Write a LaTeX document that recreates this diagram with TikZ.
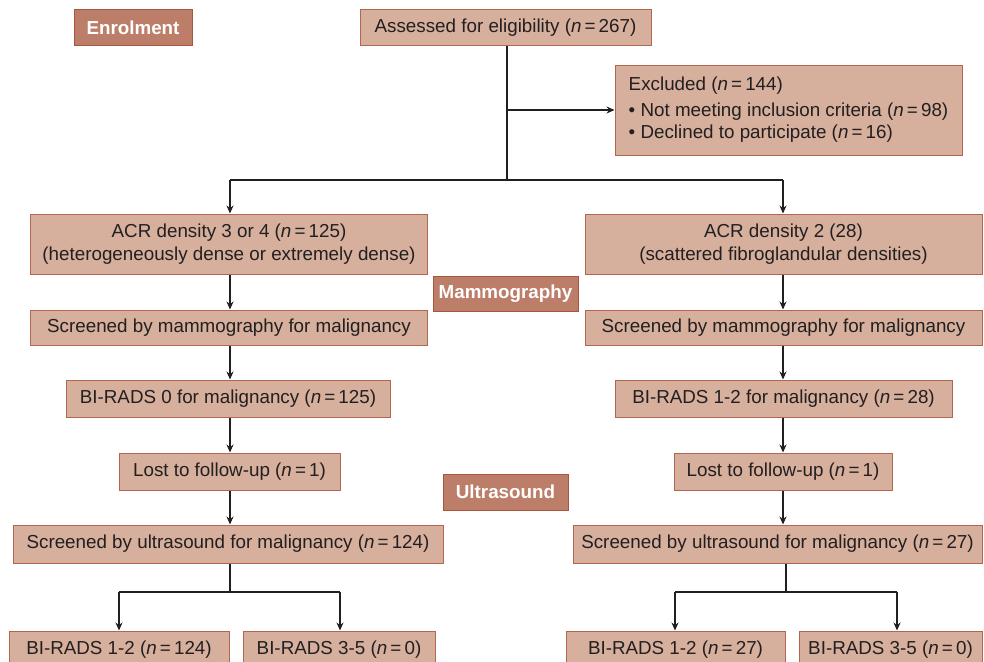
\documentclass[tikz,border=0pt]{standalone}
\usepackage{fontspec}
\setmainfont{Liberation Sans}
\usetikzlibrary{arrows.meta}
\definecolor{boxfill}{HTML}{D6AF9D}
\definecolor{boxline}{HTML}{B4654F}
\definecolor{tagfill}{HTML}{BC7E69}
\definecolor{tagline}{HTML}{A8553F}
\definecolor{ink}{HTML}{231F20}
\newcommand{\nn}{\textit{n}\,=\,}
\begin{document}
\begin{tikzpicture}[x=1pt,y=-1pt,
 box/.style={draw=boxline, fill=boxfill, line width=1pt, inner sep=0pt,
   font=\fontsize{18.8}{23}\selectfont, text=ink, align=center},
 tag/.style={draw=tagline, fill=tagfill, line width=1pt, inner sep=0pt,
   font=\bfseries\fontsize{18.8}{22}\selectfont, text=white},
 conn/.style={line width=1.4pt, draw=ink},
 arr/.style={conn, -{Stealth[length=8pt,width=7pt]}}]
\useasboundingbox (0,0) rectangle (984,661);
\clip (0,0) rectangle (984,661);
\fill[white] (0,0) rectangle (984,661);
% tags
\node[tag, minimum width=118pt, minimum height=36pt] (enrol) at (133,28) {Enrolment};
\node[tag, minimum width=145pt, minimum height=35pt] (mammo) at (505.5,293.5) {Mammography};
\node[tag, minimum width=125pt, minimum height=36pt] (us) at (505.5,492) {Ultrasound};
% boxes
\node[box, minimum width=291pt, minimum height=36pt] (assess) at (505.5,28) {Assessed for eligibility (\nn267)};
\node[box, minimum width=347pt, minimum height=90pt, align=left] (excl) at (788.5,110)
 {Excluded (\nn144)\\[3pt]\textbullet\ Not meeting inclusion criteria (\nn98)\\[-1pt]\textbullet\ Declined to participate (\nn16)};
\node[box, minimum width=397pt, minimum height=60pt] (acrL) at (229,244) {ACR density 3 or 4 (\nn125)\\(heterogeneously dense or extremely dense)};
\node[box, minimum width=397pt, minimum height=60pt] (acrR) at (783.5,244) {ACR density 2 (28)\\(scattered fibroglandular densities)};
\node[box, minimum width=397pt, minimum height=35pt] (smL) at (229,327.5) {Screened by mammography for malignancy};
\node[box, minimum width=397pt, minimum height=35pt] (smR) at (783.5,327.5) {Screened by mammography for malignancy};
\node[box, minimum width=324pt, minimum height=37pt] (biL) at (228,398.5) {BI-RADS 0 for malignancy (\nn125)};
\node[box, minimum width=337pt, minimum height=37pt] (biR) at (783.5,398.5) {BI-RADS 1-2 for malignancy (\nn28)};
\node[box, minimum width=221pt, minimum height=37pt] (lostL) at (229.5,471.5) {Lost to follow-up (\nn1)};
\node[box, minimum width=218pt, minimum height=37pt] (lostR) at (783,471.5) {Lost to follow-up (\nn1)};
\node[box, minimum width=430pt, minimum height=38pt] (suL) at (228,544) {Screened by ultrasound for malignancy (\nn124)};
\node[box, minimum width=409pt, minimum height=38pt] (suR) at (777.5,544) {Screened by ultrasound for malignancy (\nn27)};
\node[box, minimum width=220pt, minimum height=37pt] (b1) at (119,649.5) {BI-RADS 1-2 (\nn124)};
\node[box, minimum width=192pt, minimum height=37pt] (b2) at (339,649.5) {BI-RADS 3-5 (\nn0)};
\node[box, minimum width=219pt, minimum height=37pt] (b3) at (675.5,649.5) {BI-RADS 1-2 (\nn27)};
\node[box, minimum width=183pt, minimum height=37pt] (b4) at (890.5,649.5) {BI-RADS 3-5 (\nn0)};
% connectors
\coordinate (j0) at (507,110);
\coordinate (j1) at (507,180);
\coordinate (tL) at (230,180);
\coordinate (tR) at (783,180);
\draw[conn] (assess.south -| j0) -- (j1);
\draw[arr] (j0) -- (excl.west |- j0);
\draw[conn] (tL) -- (tR);
\draw[arr] (tL) -- (acrL.north -| tL);
\draw[arr] (tR) -- (acrR.north -| tR);
\draw[arr] (acrL.south -| tL) -- (smL.north -| tL);
\draw[arr] (smL.south -| tL) -- (biL.north -| tL);
\draw[arr] (biL.south -| tL) -- (lostL.north -| tL);
\draw[arr] (lostL.south -| tL) -- (suL.north -| tL);
\draw[arr] (acrR.south -| tR) -- (smR.north -| tR);
\draw[arr] (smR.south -| tR) -- (biR.north -| tR);
\draw[arr] (biR.south -| tR) -- (lostR.north -| tR);
\draw[arr] (lostR.south -| tR) -- (suR.north -| tR);
\coordinate (kL) at (230,592);
\coordinate (kR) at (786,592);
\coordinate (a1) at (119,592);
\coordinate (a2) at (340,592);
\coordinate (a3) at (675,592);
\coordinate (a4) at (897,592);
\draw[conn] (suL.south -| kL) -- (kL);
\draw[conn] (suR.south -| kR) -- (kR);
\draw[conn] (a1) -- (a2);
\draw[conn] (a3) -- (a4);
\draw[arr] (a1) -- (b1.north -| a1);
\draw[arr] (a2) -- (b2.north -| a2);
\draw[arr] (a3) -- (b3.north -| a3);
\draw[arr] (a4) -- (b4.north -| a4);
\end{tikzpicture}
\end{document}
